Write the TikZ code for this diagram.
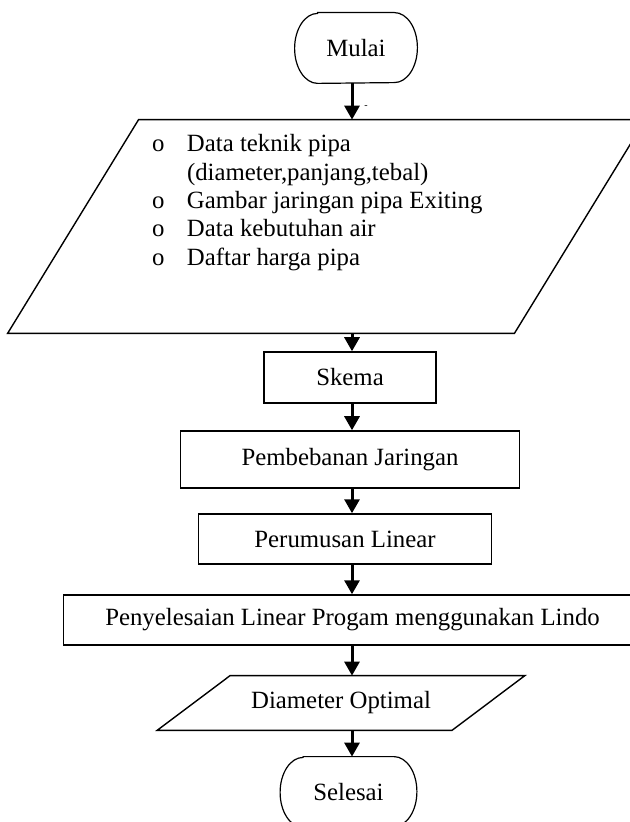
\documentclass[tikz,border=0pt]{standalone}
\usepackage{fontspec}
\setmainfont{Liberation Serif}
\usetikzlibrary{arrows.meta}

\tikzset{
  terminal/.style={rectangle, minimum height=35pt},
  process/.style={draw, rectangle, minimum height=25pt, line width=0.75pt},
  io/.style={rectangle, minimum height=25pt},
  ioline/.style={line width=0.7pt, line join=miter},
  flow/.style={-{Triangle[length=7pt,width=7.5pt]}, line width=1.5pt},
}

\begin{document}
\begin{tikzpicture}[x=0.5pt,y=-0.5pt,inner sep=0pt,font=\fontsize{12.4}{14.15}\selectfont]
\useasboundingbox (0,0) rectangle (629,822);
\coordinate (spine) at (352,0);

\node[terminal, minimum width=61pt] (mulai) at (356,48) {Mulai};
\node[io, minimum width=318.5pt, minimum height=106.5pt] (datain)
      [node distance=89.25pt, below of=mulai, xshift=-14.75pt] {};
\draw[ioline] ([xshift=65.5pt]datain.north west) -- (datain.north east)
      -- ([xshift=-65.5pt]datain.south east) -- (datain.south west) -- cycle;
\node[anchor=north west] (datatext) at ([xshift=72pt,yshift=-6pt]datain.north west)
  {\begin{tabular}{@{}p{17.5pt}@{}l@{}}
   o & Data teknik pipa\\
     & (diameter,panjang,tebal)\\
   o & Gambar jaringan pipa Exiting\\
   o & Data kebutuhan air\\
   o & Daftar harga pipa
   \end{tabular}};
\node[font=\tiny] (tick) at (366,107) {-};

\node[process, minimum width=86pt, minimum height=25.5pt] (skema)
      [node distance=75.5pt, below of=datain, xshift=11.75pt] {Skema};
\node[process, minimum width=169.5pt, minimum height=28.5pt] (beban)
      [node distance=41pt, below of=skema] {Pembebanan Jaringan};
\node[process, minimum width=146.5pt] (rumus)
      [node distance=39.75pt, below of=beban, xshift=-2.5pt] {Perumusan Linear};
\node[process, minimum width=289pt] (lindo)
      [node distance=40.5pt, below of=rumus, xshift=3.75pt] {Penyelesaian Linear Progam menggunakan Lindo};
\node[io, minimum width=183.5pt, minimum height=27pt] (diameter)
      [node distance=41.5pt, below of=lindo, xshift=-5.75pt] {Diameter Optimal};
\draw[ioline] ([xshift=36.5pt]diameter.north west) -- (diameter.north east)
      -- ([xshift=-36.5pt]diameter.south east) -- (diameter.south west) -- cycle;
\node[terminal, minimum width=68pt] (selesai)
      [node distance=44.5pt, below of=diameter, xshift=3.75pt] {Selesai};

% terminator outlines
\foreach \t in {mulai,selesai}
  \draw[line width=0.6pt] ([xshift=11.5pt]\t.north west) -- ([xshift=-11.5pt]\t.north east)
    arc[start angle=90, end angle=-90, x radius=11.5pt, y radius=17.5pt]
    -- ([xshift=11.5pt]\t.south west)
    arc[start angle=270, end angle=90, x radius=11.5pt, y radius=17.5pt] -- cycle;

\path[flow] (mulai.south -| spine) edge (datain.north -| spine)
            (datain.south -| spine) edge (skema.north -| spine)
            (skema.south -| spine) edge (beban.north -| spine)
            (beban.south -| spine) edge (rumus.north -| spine)
            (rumus.south -| spine) edge (lindo.north -| spine)
            (lindo.south -| spine) edge (diameter.north -| spine)
            (diameter.south -| spine) edge (selesai.north -| spine);
\end{tikzpicture}
\end{document}
